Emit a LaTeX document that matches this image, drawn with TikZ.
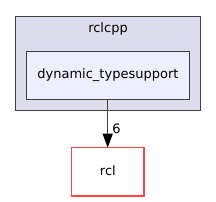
\documentclass[tikz,border=0pt]{standalone}
\usepackage{fontspec}
\setmainfont{DejaVu Sans}
\usetikzlibrary{arrows.meta}
\definecolor{clfill}{HTML}{DDDDEE}
\definecolor{nodefill}{HTML}{EEEEFF}
\definecolor{edgecol}{HTML}{404040}
\definecolor{extred}{HTML}{FF4444}
\tikzset{
  cluster/.style={draw=edgecol, fill=clfill, line width=1pt},
  dirbox/.style={draw=edgecol, fill=nodefill, line width=1pt},
  extbox/.style={draw=extred, fill=white, line width=1.2pt},
  lbl/.style={font=\fontsize{13}{15}\selectfont, inner sep=0pt},
  dep/.style={draw=edgecol, line width=1.2pt, -{Triangle[length=14pt,width=10pt,color=black]}}
}
\begin{document}
\begin{tikzpicture}[x=1pt,y=-1pt]
\useasboundingbox (0,0) rectangle (216,201);
\draw[cluster] (15.7,16) rectangle (200,110);
\node[lbl] (title) at (108,28.5) {rclcpp};
\draw[dirbox] (26.7,51.7) rectangle (189,99.3);
\node[lbl] (dyn) at (107.9,75.5) {dynamic\_typesupport};
\coordinate (dynb) at (107.7,99.3);
\draw[extbox] (71.7,147.7) rectangle (144,196);
\node[lbl] (rcl) at (107.9,171) {rcl};
\coordinate (rclt) at (107.7,147.7);
\draw[dep] (dynb) -- (rclt);
\node[lbl] (six) at (116.5,128.5) {6};
\end{tikzpicture}
\end{document}
